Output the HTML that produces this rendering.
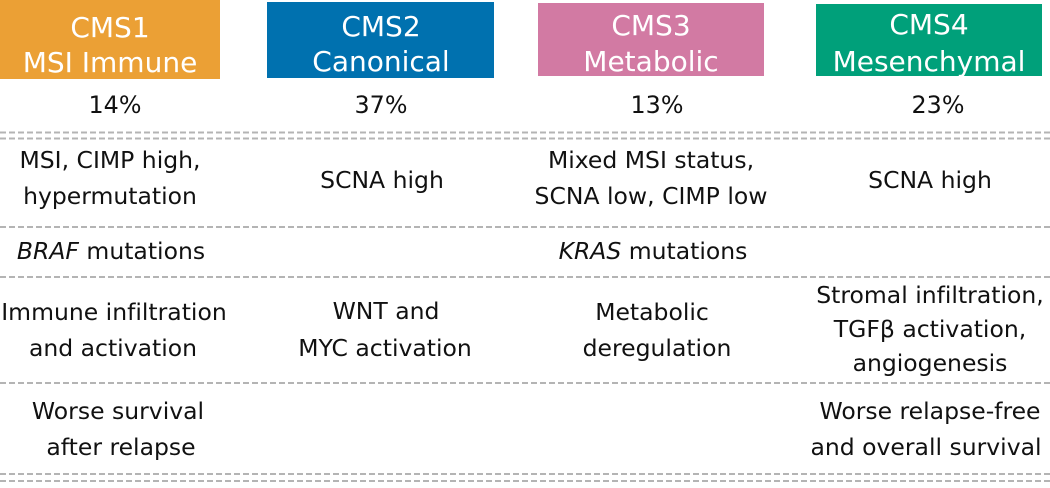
<!DOCTYPE html>
<html>
<head>
<meta charset="utf-8">
<style>
  html, body { margin: 0; padding: 0; background: #ffffff; }
  body { width: 1050px; height: 488px; overflow: hidden; }
  svg { display: block; }
  text { font-variant-ligatures: none; }
  .hd { font-family: "DejaVu Sans", "Liberation Sans", sans-serif; font-size: 28px; fill: #ffffff; text-anchor: middle; }
  .pc { font-family: "DejaVu Sans", "Liberation Sans", sans-serif; font-size: 23.8px; fill: #111111; text-anchor: middle; }
  .tx { font-family: "DejaVu Sans", "Liberation Sans", sans-serif; font-size: 23.5px; fill: #111111; text-anchor: middle; }
  .dl { stroke: #b4b4b4; stroke-width: 2; stroke-dasharray: 6 3; fill: none; }
</style>
</head>
<body>
<svg width="1050" height="488" viewBox="0 0 1050 488" xmlns="http://www.w3.org/2000/svg">
  <!-- header boxes -->
  <rect x="0" y="0" width="220" height="79" fill="#EBA035"/>
  <rect x="267" y="2" width="227" height="76" fill="#0071AF"/>
  <rect x="538" y="3" width="226" height="73" fill="#D27AA3"/>
  <rect x="816" y="4" width="226" height="72" fill="#00A07A"/>

  <text class="hd" x="110" y="37">CMS1</text>
  <text class="hd" x="110" y="72">MSI Immune</text>
  <text class="hd" x="381" y="36">CMS2</text>
  <text class="hd" x="381" y="71">Canonical</text>
  <text class="hd" x="651" y="35">CMS3</text>
  <text class="hd" x="651" y="71">Metabolic</text>
  <text class="hd" x="929" y="34">CMS4</text>
  <text class="hd" x="929" y="71">Mesenchymal</text>

  <!-- percentages -->
  <text class="pc" x="115" y="113">14%</text>
  <text class="pc" x="381" y="113">37%</text>
  <text class="pc" x="657" y="113">13%</text>
  <text class="pc" x="938" y="113">23%</text>

  <!-- separators -->
  <line class="dl" x1="0" y1="132.5" x2="1050" y2="132.5"/>
  <line class="dl" x1="0" y1="138.5" x2="1050" y2="138.5"/>
  <line class="dl" x1="0" y1="227" x2="1050" y2="227"/>
  <line class="dl" x1="0" y1="277" x2="1050" y2="277"/>
  <line class="dl" x1="0" y1="383" x2="1050" y2="383"/>
  <line class="dl" x1="0" y1="474" x2="1050" y2="474"/>
  <line class="dl" x1="0" y1="481" x2="1050" y2="481"/>

  <!-- row 1 -->
  <text class="tx" x="110" y="168">MSI, CIMP high,</text>
  <text class="tx" x="110" y="204">hypermutation</text>
  <text class="tx" x="382" y="188">SCNA high</text>
  <text class="tx" x="651" y="168">Mixed MSI status,</text>
  <text class="tx" x="651" y="204">SCNA low, CIMP low</text>
  <text class="tx" x="930" y="188">SCNA high</text>

  <!-- row 2 -->
  <text class="tx" x="111" y="259"><tspan font-style="italic">BRAF</tspan> mutations</text>
  <text class="tx" x="653" y="259"><tspan font-style="italic">KRAS</tspan> mutations</text>

  <!-- row 3 -->
  <text class="tx" x="114" y="320">Immune infiltration</text>
  <text class="tx" x="113" y="356">and activation</text>
  <text class="tx" x="386" y="319">WNT and</text>
  <text class="tx" x="385" y="356">MYC activation</text>
  <text class="tx" x="652" y="320">Metabolic</text>
  <text class="tx" x="657" y="356">deregulation</text>
  <text class="tx" x="930" y="303">Stromal infiltration,</text>
  <text class="tx" x="930" y="337">TGFβ activation,</text>
  <text class="tx" x="930" y="371">angiogenesis</text>

  <!-- row 4 -->
  <text class="tx" x="118" y="419">Worse survival</text>
  <text class="tx" x="121" y="455">after relapse</text>
  <text class="tx" x="930" y="419">Worse relapse-free</text>
  <text class="tx" x="926" y="455">and overall survival</text>
</svg>
</body>
</html>
